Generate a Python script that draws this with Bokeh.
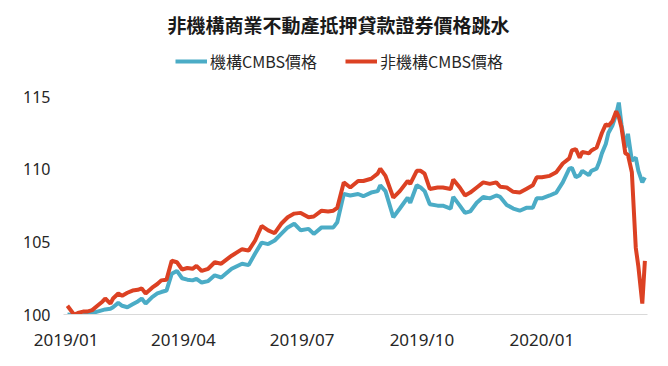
from datetime import datetime
from bokeh.plotting import figure
from bokeh.models import Range1d, FixedTicker, DatetimeTickFormatter, Legend, LegendItem
from bokeh.embed import file_html
from bokeh.resources import INLINE

title = "非機構商業不動產抵押貸款證券價格跳水"
name_agency = "機構CMBS價格"
name_nonagency = "非機構CMBS價格"

dates = [
    "2019-01-02", "2019-01-07", "2019-01-10", "2019-01-14", "2019-01-17", "2019-01-21", "2019-01-25",
    "2019-01-29", "2019-01-31", "2019-02-04", "2019-02-06", "2019-02-10", "2019-02-13", "2019-02-17",
    "2019-02-21", "2019-02-25", "2019-02-28", "2019-03-03", "2019-03-08", "2019-03-12", "2019-03-15",
    "2019-03-19", "2019-03-23", "2019-03-27", "2019-03-31", "2019-04-04", "2019-04-08", "2019-04-11",
    "2019-04-15",
    "2019-04-20", "2019-04-25", "2019-04-30", "2019-05-08", "2019-05-16", "2019-05-21", "2019-05-26",
    "2019-05-31", "2019-06-05", "2019-06-10", "2019-06-15", "2019-06-20", "2019-06-25", "2019-06-30",
    "2019-07-06", "2019-07-10", "2019-07-16", "2019-07-21", "2019-07-25", "2019-07-28", "2019-08-02",
    "2019-08-07", "2019-08-13", "2019-08-17", "2019-08-23", "2019-08-28", "2019-08-30", "2019-09-03",
    "2019-09-09", "2019-09-14", "2019-09-20", "2019-09-22", "2019-09-27",
    "2019-09-30", "2019-10-03", "2019-10-07", "2019-10-13", "2019-10-17", "2019-10-23", "2019-10-25",
    "2019-10-30", "2019-11-03", "2019-11-07", "2019-11-12", "2019-11-17", "2019-11-22", "2019-11-27",
    "2019-11-30", "2019-12-05", "2019-12-10", "2019-12-15", "2019-12-20", "2019-12-25", "2019-12-28",
    "2020-01-01", "2020-01-07", "2020-01-12", "2020-01-17", "2020-01-22", "2020-01-24", "2020-01-27",
    "2020-01-30", "2020-02-01", "2020-02-06", "2020-02-08", "2020-02-12", "2020-02-14", "2020-02-16",
    "2020-02-19", "2020-02-21", "2020-02-24", "2020-02-27", "2020-02-29", "2020-03-02", "2020-03-05",
    "2020-03-07", "2020-03-10", "2020-03-13", "2020-03-15", "2020-03-18", "2020-03-20",
]

agency = [
    100.0, 99.95, 99.9, 99.95, 100.0, 100.1, 100.2, 100.3, 100.35, 100.4, 100.5, 100.8, 100.6, 100.5,
    100.7, 100.9, 101.1, 100.75, 101.2, 101.45, 101.55, 101.65, 102.8, 103.0, 102.5, 102.4, 102.35,
    102.45, 102.2,
    102.3, 102.7, 102.55, 103.15, 103.5, 103.4, 104.2, 104.95, 104.85, 105.1, 105.55, 106.0, 106.25,
    105.8, 105.9, 105.55, 106.0, 106.0, 106.0, 106.35, 108.3, 108.2, 108.3, 108.15, 108.4, 108.5,
    108.9, 108.5, 106.7, 107.3, 108.05, 107.7, 108.9,
    108.75, 108.5, 107.6, 107.5, 107.5, 107.3, 108.1, 107.5, 107.0, 107.1, 107.7, 108.1, 108.0, 108.2,
    108.1, 107.55, 107.3, 107.15, 107.35, 107.35, 108.0, 108.0, 108.2, 108.4, 109.1, 110.05, 110.1,
    109.45, 109.6, 109.9, 109.6, 109.9, 110.05, 110.5, 111.1, 111.75, 112.5, 113.0, 113.8, 114.6,
    113.1, 111.5, 112.45, 110.6, 110.8, 109.9, 109.1, 109.45,
]

nonagency = [
    100.6, 100.0, 100.1, 100.2, 100.2, 100.3, 100.6, 100.9, 101.1, 100.75, 101.1, 101.45, 101.3, 101.5,
    101.65, 101.7, 101.8, 101.45, 101.85, 102.1, 102.35, 102.4, 103.7, 103.6, 103.1, 103.2, 103.15,
    103.35, 103.0,
    103.15, 103.6, 103.5, 104.05, 104.5, 104.4, 105.1, 106.1, 105.8, 105.6, 106.25, 106.7, 106.95,
    107.0, 106.7, 106.75, 107.15, 107.1, 107.15, 107.35, 109.1, 108.75, 109.2, 109.2, 109.35, 109.7,
    110.05, 109.55, 108.05, 108.5, 109.2, 109.0, 109.9,
    109.9, 109.7, 108.65, 108.75, 108.75, 108.65, 109.3, 108.75, 108.2, 108.4, 108.75, 109.1, 109.0,
    109.1, 108.8, 108.75, 108.45, 108.4, 108.65, 108.9, 109.45, 109.45, 109.55, 109.8, 110.4, 110.75,
    111.3, 111.4, 110.8, 111.2, 111.1, 111.3, 111.5, 112.0, 112.5, 113.1, 113.0, 113.3, 114.0, 113.6,
    112.9, 111.1, 111.0, 109.8, 104.6, 103.3, 100.75, 103.7,
]

tick_dates = ["2019-01-01", "2019-04-01", "2019-07-01", "2019-10-01", "2020-01-01"]
y_ticks = [100, 105, 110, 115]

x = [datetime.strptime(d, "%Y-%m-%d") for d in dates]
tick_ms = [datetime.strptime(d, "%Y-%m-%d").timestamp() * 1000 for d in tick_dates]

p = figure(
    width=650, height=356, x_axis_type="datetime",
    x_range=Range1d(datetime(2018, 12, 30), datetime(2020, 3, 22)),
    y_range=Range1d(100, 118.6),
    output_backend="svg", toolbar_location=None,
    min_border_left=63, min_border_right=3, min_border_bottom=42, min_border_top=44,
)
p.title.text = title
p.title.align = "left"
p.title.offset = 104
p.title.standoff = 13
p.title.text_font = "Noto Sans CJK TC"
p.title.text_font_size = "19px"
p.title.text_font_style = "bold"
p.title.text_color = "#1a1a1a"

r_ag = p.line(x, agency, line_color="#4BACC6", line_width=4)
r_na = p.line(x, nonagency, line_color="#DC4123", line_width=4)

p.xgrid.visible = False
p.ygrid.visible = False
p.outline_line_color = None

p.xaxis.ticker = FixedTicker(ticks=tick_ms)
p.xaxis.formatter = DatetimeTickFormatter(days="%Y/%m", months="%Y/%m", years="%Y/%m")
p.xaxis.axis_line_color = "#d9d9d9"
p.xaxis.axis_line_width = 1
p.xaxis.major_tick_line_color = None
p.xaxis.minor_tick_line_color = None
p.xaxis.major_tick_out = 0
p.xaxis.major_tick_in = 0
p.xaxis.major_label_standoff = 13
p.xaxis.major_label_text_font = "Noto Sans"
p.xaxis.major_label_text_font_size = "17px"
p.xaxis.major_label_text_color = "#262626"

p.yaxis.ticker = FixedTicker(ticks=y_ticks)
p.yaxis.axis_line_color = None
p.yaxis.major_tick_line_color = None
p.yaxis.minor_tick_line_color = None
p.yaxis.major_tick_out = 0
p.yaxis.major_tick_in = 0
p.yaxis.major_label_standoff = 13
p.yaxis.major_label_text_font = "Noto Sans"
p.yaxis.major_label_text_font_size = "16px"
p.yaxis.major_label_text_color = "#262626"

legend = Legend(
    items=[LegendItem(label=name_agency, renderers=[r_ag]),
           LegendItem(label=name_nonagency, renderers=[r_na])],
    orientation="horizontal", location=(112, 241),
    label_text_font="Noto Sans CJK TC", label_text_font_size="16px", label_text_color="#262626",
    glyph_width=32, glyph_height=16, label_standoff=3, spacing=28,
    padding=0, margin=0, border_line_color=None, background_fill_alpha=0,
)
p.add_layout(legend, "center")

open("out.html", "w").write(file_html(p, INLINE))
